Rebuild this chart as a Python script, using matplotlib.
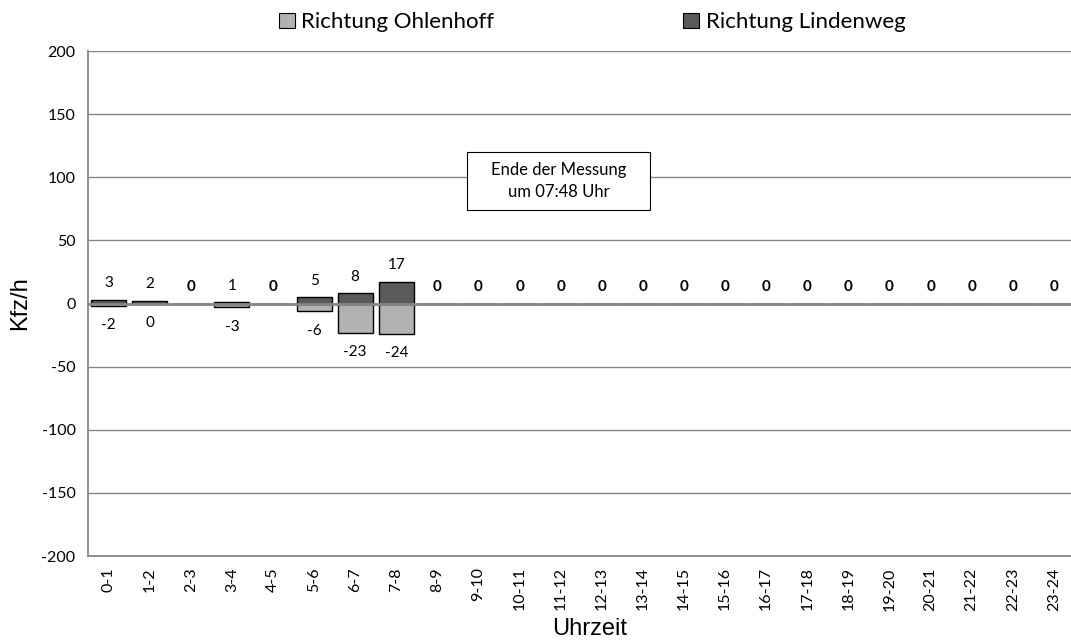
import numpy as np
import matplotlib
matplotlib.use('Agg')
import matplotlib.pyplot as plt
from matplotlib.patches import Patch, Rectangle

# data
hours = ['0-1', '1-2', '2-3', '3-4', '4-5', '5-6', '6-7', '7-8', '8-9', '9-10',
         '10-11', '11-12', '12-13', '13-14', '14-15', '15-16', '16-17', '17-18',
         '18-19', '19-20', '20-21', '21-22', '22-23', '23-24']
ohlenhoff = [-2, 0, 0, -3, 0, -6, -23, -24] + [0] * 16
lindenweg = [3, 2, 0, 1, 0, 5, 8, 17] + [0] * 16
y_ticks = [-200, -150, -100, -50, 0, 50, 100, 150, 200]

light = '#b2b2b2'
dark = '#5a5a5a'
grid_col = '#868686'
font = 'Lato'

fig = plt.figure(figsize=(10.71, 6.44), dpi=100)
ax = fig.add_axes([0.0822, 0.1366, 0.921, 0.7842])

x = np.arange(len(hours))
ax.bar(x, ohlenhoff, width=0.85, color=light, edgecolor='black', linewidth=1, zorder=3)
ax.bar(x, lindenweg, width=0.85, color=dark, edgecolor='black', linewidth=1, zorder=3)

# value labels
for i in range(len(hours)):
    o, l = ohlenhoff[i], lindenweg[i]
    if o == 0 and l == 0:
        ax.annotate('0', (i, 0), xytext=(0, 12), textcoords='offset points',
                    ha='center', va='center', fontsize=11, fontweight='bold',
                    family=font)
        continue
    ax.annotate(str(l), (i, l), xytext=(0, 12), textcoords='offset points',
                ha='center', va='center', fontsize=11, family=font)
    ax.annotate(str(o), (i, o), xytext=(0, -14), textcoords='offset points',
                ha='center', va='center', fontsize=11, family=font)

ax.set_xlim(-0.5, len(hours) - 0.5)
ax.set_ylim(-200, 200)
ax.set_yticks(y_ticks)
ax.set_yticklabels([str(v) for v in y_ticks], family=font, fontsize=11.5)
ax.set_xticks(x)
ax.set_xticklabels(hours, rotation=90, family=font, fontsize=11.5)
ax.tick_params(axis='both', length=0)
ax.tick_params(axis='y', pad=9)
ax.tick_params(axis='x', pad=8)

for v in y_ticks:
    ax.axhline(v, color=grid_col, linewidth=1, zorder=1)
ax.axhline(0, color=grid_col, linewidth=2, zorder=4)

for s in ['top', 'right']:
    ax.spines[s].set_visible(False)
ax.spines['left'].set_color(grid_col)
ax.spines['bottom'].set_color(grid_col)
ax.spines['left'].set_linewidth(1.3)
ax.spines['bottom'].set_linewidth(1.3)

ax.set_ylabel('Kfz/h', family='Liberation Sans', fontsize=17)
ax.yaxis.set_label_coords(-0.058, 0.5)
ax.set_xlabel('Uhrzeit', family='Liberation Sans', fontsize=17)
ax.xaxis.set_label_coords(0.509, -0.122)

# note box
ax.add_patch(Rectangle((0.3845, 0.685), 0.1852, 0.115, transform=ax.transAxes,
                       facecolor='white', edgecolor='black', linewidth=0.8, zorder=5))
ax.text(0.477, 0.7425, 'Ende der Messung\num 07:48 Uhr', ha='center', va='center',
        fontsize=12, family=font, linespacing=1.5, zorder=6, transform=ax.transAxes)

handles = [Patch(facecolor=light, edgecolor='black', linewidth=0.8),
           Patch(facecolor=dark, edgecolor='black', linewidth=0.8)]
fig.legend(handles, ['Richtung Ohlenhoff', 'Richtung Lindenweg'],
           loc='upper center', bbox_to_anchor=(0.553, 1.012), ncol=2,
           frameon=False, handlelength=0.7, handleheight=0.7,
           handletextpad=0.3, columnspacing=8.5, prop={'family': font, 'size': 16})

fig.savefig('out.png', dpi=100)
